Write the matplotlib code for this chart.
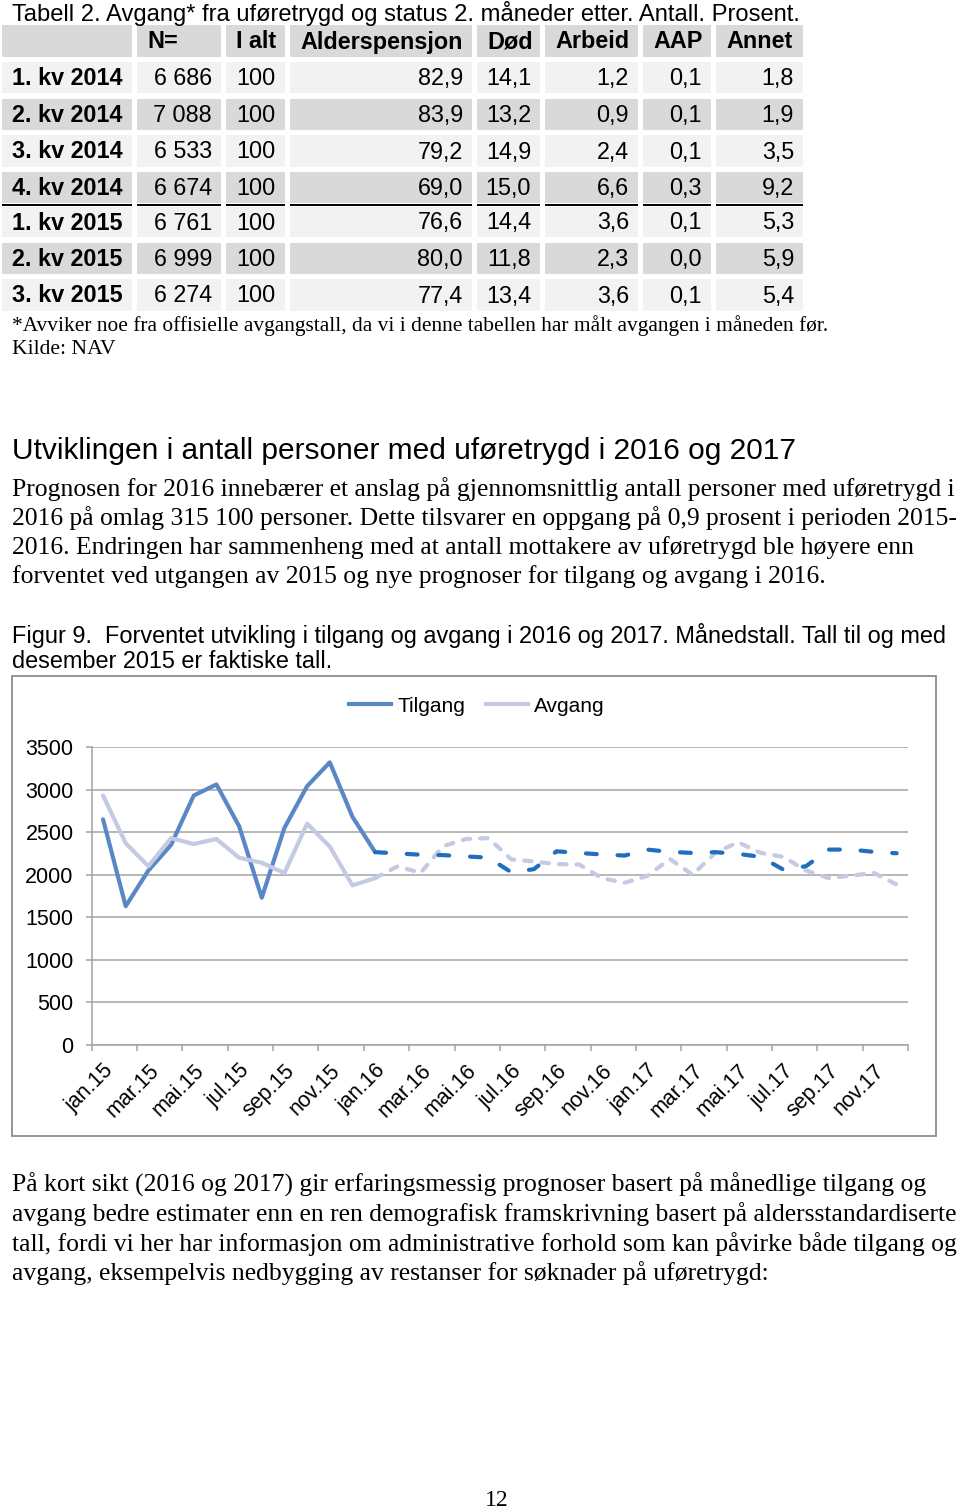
import numpy as np
import matplotlib
matplotlib.use("Agg")
import matplotlib.pyplot as plt
from matplotlib.patches import Rectangle
from matplotlib.lines import Line2D

W, H = 960, 1510
SANS = "Liberation Sans"
SERIF = "Liberation Serif"

# ---- Tabell 2 ----
table_title = "Tabell 2. Avgang* fra uføretrygd og status 2. måneder etter. Antall. Prosent."
col_headers = ["", "N=", "I alt", "Alderspensjon", "Død", "Arbeid", "AAP", "Annet"]
quarters = ["1. kv 2014", "2. kv 2014", "3. kv 2014", "4. kv 2014",
            "1. kv 2015", "2. kv 2015", "3. kv 2015"]
n_total = ["6 686", "7 088", "6 533", "6 674", "6 761", "6 999", "6 274"]
i_alt = [100, 100, 100, 100, 100, 100, 100]
alderspensjon = [82.9, 83.9, 79.2, 69.0, 76.6, 80.0, 77.4]
dod = [14.1, 13.2, 14.9, 15.0, 14.4, 11.8, 13.4]
arbeid = [1.2, 0.9, 2.4, 6.6, 3.6, 2.3, 3.6]
aap = [0.1, 0.1, 0.1, 0.3, 0.1, 0.0, 0.1]
annet = [1.8, 1.9, 3.5, 9.2, 5.3, 5.9, 5.4]
footnote = ("*Avviker noe fra offisielle avgangstall, da vi i denne tabellen "
            "har målt avgangen i måneden før.")
source = "Kilde: NAV"

# ---- tekst ----
heading = "Utviklingen i antall personer med uføretrygd i 2016 og 2017"
para1 = [
    "Prognosen for 2016 innebærer et anslag på gjennomsnittlig antall personer med uføretrygd i",
    "2016 på omlag 315 100 personer. Dette tilsvarer en oppgang på 0,9 prosent i perioden 2015-",
    "2016. Endringen har sammenheng med at antall mottakere av uføretrygd ble høyere enn",
    "forventet ved utgangen av 2015 og nye prognoser for tilgang og avgang i 2016.",
]
fig_caption = [
    "Figur 9.  Forventet utvikling i tilgang og avgang i 2016 og 2017. Månedstall. Tall til og med",
    "desember 2015 er faktiske tall.",
]
para2 = [
    "På kort sikt (2016 og 2017) gir erfaringsmessig prognoser basert på månedlige tilgang og",
    "avgang bedre estimater enn en ren demografisk framskrivning basert på aldersstandardiserte",
    "tall, fordi vi her har informasjon om administrative forhold som kan påvirke både tilgang og",
    "avgang, eksempelvis nedbygging av restanser for søknader på uføretrygd:",
]
page_no = "12"

# ---- Figur 9: månedstall jan.15 - des.17 ----
month_names = ["jan", "feb", "mar", "apr", "mai", "jun",
               "jul", "aug", "sep", "okt", "nov", "des"]
years = ["15", "16", "17"]
months = [f"{m}.{y}" for y in years for m in month_names]
tilgang = [2650, 1630, 2050, 2350, 2930, 3060, 2570, 1730, 2550, 3040, 3320, 2680,
           2265, 2250, 2235, 2230, 2215, 2200, 2030, 2065, 2275, 2255, 2238, 2225,
           2295, 2268, 2256, 2265, 2245, 2210, 2060, 2100, 2295, 2295, 2268, 2252]
avgang = [2930, 2370, 2100, 2430, 2360, 2420, 2200, 2140, 2020, 2600, 2330, 1875,
          1960, 2100, 2020, 2335, 2420, 2430, 2180, 2155, 2125, 2120, 1960, 1905,
          1985, 2185, 2000, 2256, 2382, 2256, 2210, 2050, 1960, 1990, 2020, 1885]
first_forecast = months.index("jan.16")

C_TIL = "#5a87c5"
C_TIL_PROG = "#1f6fbd"
C_AVG = "#c3cae2"
C_GRID = "#a3a3a3"

fig = plt.figure(figsize=(W / 100, H / 100), dpi=100)
page = fig.add_axes([0, 0, 1, 1])
page.set_xlim(0, W)
page.set_ylim(H, 0)
page.axis("off")
renderer = fig.canvas.get_renderer()


def put(x, y, s, size, family=SANS, width=None, **kw):
    t = page.text(x, y, s, fontsize=size, family=family, va="center", **kw)
    if width is not None:
        w = t.get_window_extent(renderer).width
        t.set_fontsize(size * width / w)
    return t


def paragraph(lines, x, ys, ref, ref_width, family):
    t = put(x, ys[ref], lines[ref], 17, family=family, width=ref_width)
    size = t.get_fontsize()
    for i, (s, y) in enumerate(zip(lines, ys)):
        if i != ref:
            put(x, y, s, size, family=family)


# ---- tabell ----
put(12, 14, table_title, 16.5, width=786)
col_x = [(2, 132), (137, 221), (226, 285), (290, 472), (477, 540),
         (545, 638), (643, 711), (716, 803)]
row_y = [(25, 57), (62, 93), (99, 130), (135, 167), (172, 203),
         (207, 237), (243, 274), (279, 311)]
rows = [[q, n, str(a), *[f"{v:.1f}".replace(".", ",") for v in vals]]
        for q, n, a, *vals in zip(quarters, n_total, i_alt, alderspensjon,
                                  dod, arbeid, aap, annet)]

hdr = put(0, 0, "Alderspensjon", 16, weight="bold", width=162)
cell_size = hdr.get_fontsize()
hdr.remove()
for r, (y0, y1) in enumerate(row_y):
    fill = "#d9d9d9" if r % 2 == 0 else "#f2f2f2"
    yc = (y0 + y1) / 2 + 1
    for c, (x0, x1) in enumerate(col_x):
        page.add_patch(Rectangle((x0, y0), x1 - x0, y1 - y0, fc=fill, ec="none"))
        if r == 0:
            if col_headers[c]:
                put(x0 + 10, yc, col_headers[c], cell_size, weight="bold")
        elif c == 0:
            put(x0 + 10, yc, rows[r - 1][0], cell_size, weight="bold")
        else:
            put(x1 - 9, yc, rows[r - 1][c], cell_size, ha="right")
for x0, x1 in col_x:
    page.plot([x0, x1], [204.5, 204.5], color="black", lw=1.4, solid_capstyle="butt")

put(12, 326, footnote, 14, family=SERIF, width=816)
put(12, 349, source, 14, family=SERIF, width=104)

# ---- tekst ----
put(12, 451, heading, 21, width=785)
paragraph(para1, 12, [489, 518, 548, 577], 0, 943, SERIF)
paragraph(fig_caption, 12, [635, 662], 0, 935, SANS)
paragraph(para2, 12, [1185, 1214, 1244, 1273], 1, 946, SERIF)
put(497, 1500, page_no, 17, family=SERIF, ha="center")

# ---- figur ----
page.add_patch(Rectangle((12, 676), 924, 460, fill=False, ec="#8c8c8c", lw=1.3))

ax = fig.add_axes([91.7 / W, 1 - 1045 / H, (908 - 91.7) / W, (1045 - 747) / H])
ax.set_facecolor("none")
x = np.arange(len(months))
k = first_forecast
ax.plot(x[:k + 1], tilgang[:k + 1], color=C_TIL, lw=3, zorder=3,
        solid_joinstyle="round", solid_capstyle="round")
ax.plot(x[:k + 1], avgang[:k + 1], color=C_AVG, lw=3, zorder=3,
        solid_joinstyle="round", solid_capstyle="round")
ax.plot(x[k:], avgang[k:], color=C_AVG, lw=3, zorder=3,
        dashes=(1.8, 2.4), dash_capstyle="round", dash_joinstyle="round")
ax.plot(x[k:], tilgang[k:], color=C_TIL_PROG, lw=3, zorder=4,
        dashes=(2.6, 5.0), dash_capstyle="round", dash_joinstyle="round")

ax.set_xlim(-0.5, len(months) - 0.5)
ax.set_ylim(0, 3500)
ax.set_yticks(range(0, 3501, 500))
ax.yaxis.grid(True, color=C_GRID, lw=1.1)
ax.set_axisbelow(True)
for s in ["top", "right"]:
    ax.spines[s].set_visible(False)
for s in ["left", "bottom"]:
    ax.spines[s].set_color(C_GRID)
    ax.spines[s].set_linewidth(1.1)
ax.set_xticks(x[::2])
ax.set_xticklabels(months[::2], rotation=45, ha="right", va="top",
                   rotation_mode="anchor", family=SANS, fontsize=15.5)
ax.set_xticks(np.arange(-0.5, len(months), 2), minor=True)
ax.tick_params(axis="x", which="major", length=0, pad=11)
ax.tick_params(axis="x", which="minor", length=4, color=C_GRID, width=1.1)
ax.tick_params(axis="y", length=4, color=C_GRID, width=1.1, pad=9)
for t in ax.get_yticklabels():
    t.set_family(SANS)
    t.set_fontsize(15.5)

handles = [Line2D([], [], color=C_TIL, lw=3), Line2D([], [], color=C_AVG, lw=3)]
fig.legend(handles, ["Tilgang", "Avgang"], loc="center",
           bbox_to_anchor=(477 / W, 1 - 706 / H), ncol=2, frameon=False,
           prop={"family": SANS, "size": 15}, handlelength=2.0,
           handletextpad=0.3, columnspacing=1.0)

fig.savefig("out.png", dpi=100)
